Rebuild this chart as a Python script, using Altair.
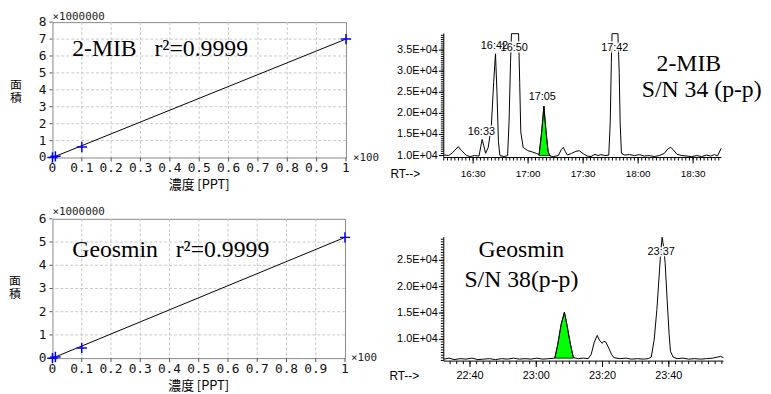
import altair as alt
import pandas as pd

# ---------------- Calibration curves (x: concentration x100 PPT, y: area x1,000,000) ----------------
mib_conc = [0.0, 0.01, 0.1, 1.0]
mib_area = [0.0, 0.07, 0.62, 7.0]
mib_fit_conc = [0.0, 1.0]
mib_fit_area = [0.0, 7.0]

geo_conc = [0.0, 0.01, 0.1, 1.0]
geo_area = [0.0, 0.05, 0.44, 5.2]
geo_fit_conc = [0.0, 1.0]
geo_fit_area = [0.0, 5.2]

conc_ticks = [0.0, 0.1, 0.2, 0.3, 0.4, 0.5, 0.6, 0.7, 0.8, 0.9, 1.0]
conc_tick_labels = ["0", "0.1", "0.2", "0.3", "0.4", "0.5", "0.6", "0.7", "0.8", "0.9", "1"]
mib_area_ticks = [0, 1, 2, 3, 4, 5, 6, 7, 8]
geo_area_ticks = [0, 1, 2, 3, 4, 5, 6]

# ---------------- Chromatograms (x: retention time in seconds, labelled mm:ss) ----------------
mib_rt = [974.2, 976.7, 978.8, 981.9, 983.7, 986.4, 988.5, 990.7, 993.2, 994.9,
          995.8, 996.8, 998.2, 999.9, 1001.2, 1002.2, 1003.0, 1003.8, 1004.6, 1006.9,
          1008.8, 1009.6, 1010.4, 1010.9, 1014.8, 1015.4, 1016.0, 1017.3, 1019.8, 1022.5,
          1024.7, 1026.0, 1027.4, 1028.6, 1029.8, 1030.9, 1031.9, 1033.8, 1036.5, 1038.1,
          1039.2, 1040.3, 1041.4, 1043.5, 1045.7, 1047.8, 1050.0, 1052.2, 1054.3, 1056.5,
          1058.1, 1059.7, 1061.9, 1064.0, 1064.8, 1065.4, 1065.8, 1069.0, 1069.7, 1070.2,
          1070.9, 1072.6, 1075.3, 1078.0, 1080.7, 1083.4, 1086.1, 1088.8, 1091.5, 1094.2,
          1096.4, 1097.8, 1099.1, 1101.2, 1103.9, 1106.6, 1109.3, 1112.0, 1114.7, 1117.4,
          1119.5, 1121.7, 1123.3, 1125.3]
mib_abund = [10160, 10000, 10700, 12110, 11170, 10000, 9770, 10000, 9880, 13820,
             12340, 10540, 11870, 16790, 27340, 34130, 25000, 13280, 10000, 9770,
             10000, 17970, 32020, 38890, 38890, 27340, 15620, 11940, 11170, 10820,
             10470, 10230, 15620, 21720, 15620, 10940, 9880, 9770, 10000, 11410,
             11940, 10940, 10120, 10470, 10940, 11170, 10470, 9880, 9770, 10300,
             10000, 10230, 10000, 10120, 17970, 32020, 38890, 38890, 29680, 17970,
             10540, 10120, 10230, 10000, 10230, 9880, 10000, 9770, 10000, 10470,
             11640, 11940, 11410, 10300, 10000, 9880, 9770, 10000, 9770, 10120,
             9880, 10230, 9880, 11710]
mib_green_rt = [1026.0, 1027.4, 1028.6, 1029.8, 1030.9, 1031.9]
mib_green_abund = [10230, 15620, 21720, 15620, 10940, 9880]
mib_green_base = 10000
mib_peak_text = ["16:33", "16:42", "16:50", "17:05", "17:42"]
mib_peak_rt = [994.5, 1001.6, 1012.4, 1027.7, 1067.3]
mib_peak_abund = [15620, 36080, 35540, 23820, 35540]
mib_note_text = ["2-MIB", "S/N 34 (p-p)"]
mib_note_rt = [1107.7, 1114.7]
mib_note_abund = [31790, 25460]

geo_rt = [1352.2, 1353.7, 1355.2, 1357.0, 1358.8, 1360.6, 1362.4, 1364.1, 1365.9, 1367.7,
          1369.5, 1371.3, 1373.1, 1374.9, 1376.6, 1378.4, 1380.2, 1382.0, 1383.8, 1385.6,
          1386.5, 1387.5, 1388.5, 1389.3, 1390.2, 1391.2, 1392.7, 1394.2, 1395.7, 1396.6,
          1397.5, 1398.4, 1399.1, 1399.9, 1400.4, 1401.0, 1401.9, 1402.7, 1403.4, 1405.2,
          1407.0, 1408.8, 1410.6, 1412.3, 1413.8, 1414.7, 1415.6, 1416.4, 1417.0, 1417.6,
          1418.0, 1418.5, 1418.9, 1419.5, 1420.1, 1420.5, 1421.3, 1422.5, 1424.3, 1426.0,
          1427.8, 1429.6, 1431.4, 1433.2, 1434.7, 1435.6, 1436.5]
geo_abund = [6250, 6440, 6160, 6340, 6250, 6440, 6160, 6250, 6340, 6160,
             6340, 6250, 6440, 6250, 6340, 6250, 6440, 6250, 6340, 6440,
             9060, 12810, 15160, 12630, 9440, 6530, 6340, 6440, 6340, 7190,
             9440, 10750, 9810, 9250, 9630, 9490, 8310, 7190, 6530, 6340,
             6440, 6250, 6340, 6250, 6340, 6630, 10000, 15630, 21250, 26880,
             29370, 27250, 24440, 17500, 10940, 7750, 6630, 6340, 6440, 6250,
             6340, 6250, 6340, 6440, 6630, 6760, 6530]
geo_green_rt = [1385.6, 1386.5, 1387.5, 1388.5, 1389.3, 1390.2, 1391.2]
geo_green_abund = [6440, 9060, 12810, 15160, 12630, 9440, 6530]
geo_green_base = 6440
geo_peak_text = ["23:37"]
geo_peak_rt = [1417.7]
geo_peak_abund = [26560]
geo_note_text = ["Geosmin", "S/N 38(p-p)"]
geo_note_rt = [1375.5, 1375.5]
geo_note_abund = [26875, 21250]

# axis ticks of the chromatograms
mib_major_rt = [990, 1020, 1050, 1080, 1110]
mib_major_rt_labels = ["16:30", "17:00", "17:30", "18:00", "18:30"]
geo_major_rt = [1360, 1380, 1400, 1420]
geo_major_rt_labels = ["22:40", "23:00", "23:20", "23:40"]
mib_major_ab = [10000, 15000, 20000, 25000, 30000, 35000]
mib_major_ab_labels = ["1.0E+04", "1.5E+04", "2.0E+04", "2.5E+04", "3.0E+04", "3.5E+04"]
geo_major_ab = [10000, 15000, 20000, 25000]
geo_major_ab_labels = ["1.0E+04", "1.5E+04", "2.0E+04", "2.5E+04"]
mib_minor_rt = list(range(974, 1126, 2))
geo_minor_rt = list(range(1354, 1437, 2))
mib_minor_ab = list(range(10000, 39000, 500))
geo_minor_ab = list(range(6000, 29500, 500))

SANS = "Liberation Sans"
SERIF = "Liberation Serif"
MONO = "DejaVu Sans Mono"
CJK = "Noto Sans CJK JP"


def one(txt):
    return pd.DataFrame({"t": [txt]})


def chrom_panel(rt, ab, g_rt, g_ab, g_base, pk_txt, pk_rt, pk_ab, an_txt, an_rt, an_ab,
                x_dom, y_dom, y_top, x_major, x_labels, x_minor, y_major, y_labels, y_minor,
                w, h, xlab_size, xlab_dy, rt_dx, rt_dy):
    xs = alt.Scale(domain=x_dom, nice=False, zero=False)
    ys = alt.Scale(domain=y_dom, nice=False, zero=False)

    def X(f):
        return alt.X(f, scale=xs, axis=None)

    def Y(f):
        return alt.Y(f, scale=ys, axis=None)

    tr = pd.DataFrame({"rt": rt, "ab": ab})
    gr = pd.DataFrame({"rt": g_rt, "ab": g_ab, "base": [g_base] * len(g_rt)})
    pk = pd.DataFrame({"rt": pk_rt, "ab": pk_ab, "txt": pk_txt})
    an = pd.DataFrame({"rt": an_rt, "ab": an_ab, "txt": an_txt})
    ax = pd.DataFrame({"lo": [y_dom[0]], "hi": [y_top]})
    xmj = pd.DataFrame({"rt": x_major, "lab": x_labels})
    ymj = pd.DataFrame({"ab": y_major, "lab": y_labels})
    xmn = pd.DataFrame({"rt": x_minor})
    ymn = pd.DataFrame({"ab": y_minor})

    green = alt.Chart(gr).mark_area(fill="#00ff00", stroke="black", strokeWidth=0.8, opacity=1).encode(
        x=X("rt:Q"), y=Y("ab:Q"), y2="base:Q")
    line = alt.Chart(tr).mark_line(color="black", strokeWidth=1).encode(x=X("rt:Q"), y=Y("ab:Q"))
    xdomain = alt.Chart(one("")).mark_rule(color="black", strokeWidth=1).encode(
        x=alt.value(0), x2=alt.value(w), y=alt.value(h))
    ydomain = alt.Chart(ax).mark_rule(color="black", strokeWidth=1).encode(
        x=alt.value(0), y=Y("lo:Q"), y2="hi:Q")
    xminor = alt.Chart(xmn).mark_rule(color="black", strokeWidth=1).encode(
        x=X("rt:Q"), y=alt.value(h), y2=alt.value(h + 3))
    xmajor = alt.Chart(xmj).mark_rule(color="black", strokeWidth=1).encode(
        x=X("rt:Q"), y=alt.value(h), y2=alt.value(h + 6))
    xlab = alt.Chart(xmj).mark_text(font=SANS, fontSize=xlab_size, color="black",
                                    baseline="middle").encode(
        x=X("rt:Q"), y=alt.value(h + xlab_dy), text="lab:N")
    yminor = alt.Chart(ymn).mark_rule(color="black", strokeWidth=1).encode(
        y=Y("ab:Q"), x=alt.value(-3), x2=alt.value(0))
    ymajor = alt.Chart(ymj).mark_rule(color="black", strokeWidth=1).encode(
        y=Y("ab:Q"), x=alt.value(-5), x2=alt.value(0))
    ylab = alt.Chart(ymj).mark_text(font=SANS, fontSize=11, color="black", align="right",
                                    baseline="middle").encode(
        y=Y("ab:Q"), x=alt.value(-6), text="lab:N")
    rt_title = alt.Chart(one("RT-->")).mark_text(font=SANS, fontSize=12, color="black",
                                                  align="left", baseline="middle").encode(
        x=alt.value(rt_dx), y=alt.value(h + rt_dy), text="t:N")
    halo = alt.Chart(pk).mark_text(font=SANS, fontSize=11, fill="white", stroke="white",
                                   strokeWidth=3, baseline="middle").encode(
        x=X("rt:Q"), y=Y("ab:Q"), text="txt:N")
    labels = alt.Chart(pk).mark_text(font=SANS, fontSize=11, color="black", baseline="middle").encode(
        x=X("rt:Q"), y=Y("ab:Q"), text="txt:N")
    notes = alt.Chart(an).mark_text(font=SERIF, fontSize=24, color="black", align="center",
                                    baseline="middle").encode(
        x=X("rt:Q"), y=Y("ab:Q"), text="txt:N")
    return alt.layer(green, line, xdomain, ydomain, xminor, xmajor, xlab, yminor, ymajor, ylab,
                     rt_title, halo, labels, notes).properties(width=w, height=h)


def calib_panel(conc, area, fit_conc, fit_area, y_ticks, note, note_x, note_y, w, h,
                yt_dx, yt_dy, mult_dy, x100_dx, x100_dy):
    ymax = y_ticks[-1]
    xs = alt.Scale(domain=[0, 1], nice=False, zero=False)
    ys = alt.Scale(domain=[0, ymax], nice=False, zero=False)

    def X(f):
        return alt.X(f, scale=xs, axis=None)

    def Y(f):
        return alt.Y(f, scale=ys, axis=None)

    pts = pd.DataFrame({"conc": conc, "area": area})
    fit = pd.DataFrame({"conc": fit_conc, "area": fit_area})
    nt = pd.DataFrame({"conc": [note_x], "area": [note_y], "txt": [note]})
    xt = pd.DataFrame({"conc": conc_ticks, "lab": conc_tick_labels})
    yt = pd.DataFrame({"area": y_ticks, "lab": [str(v) for v in y_ticks]})
    gx = pd.DataFrame({"conc": conc_ticks[1:-1]})
    gy = pd.DataFrame({"area": y_ticks[1:-1]})

    gridx = alt.Chart(gx).mark_rule(color="#c8c8c8", strokeWidth=1, strokeDash=[3, 2]).encode(
        x=X("conc:Q"))
    gridy = alt.Chart(gy).mark_rule(color="#c8c8c8", strokeWidth=1, strokeDash=[3, 2]).encode(
        y=Y("area:Q"))
    xticks = alt.Chart(xt).mark_rule(color="#555", strokeWidth=1).encode(
        x=X("conc:Q"), y=alt.value(h), y2=alt.value(h + 4))
    xlab = alt.Chart(xt).mark_text(font=MONO, fontSize=13, color="#111", baseline="top").encode(
        x=X("conc:Q"), y=alt.value(h + 5), text="lab:N")
    yticks = alt.Chart(yt).mark_rule(color="#555", strokeWidth=1).encode(
        y=Y("area:Q"), x=alt.value(-3), x2=alt.value(0))
    ylab = alt.Chart(yt).mark_text(font=MONO, fontSize=13, color="#111", align="right",
                                   baseline="middle").encode(
        y=Y("area:Q"), x=alt.value(-6), text="lab:N")
    xtitle = alt.Chart(one("濃度 [PPT]")).mark_text(font=CJK, fontSize=13, color="black",
                                                      baseline="middle").encode(
        x=alt.value(w / 2), y=alt.value(h + 28), text="t:N")
    ytitle = alt.Chart(one("面\n積")).mark_text(font=CJK, fontSize=12, color="black",
                                                 baseline="top", lineBreak="\n",
                                                 lineHeight=13).encode(
        x=alt.value(yt_dx), y=alt.value(yt_dy), text="t:N")
    mult = alt.Chart(one("×1000000")).mark_text(font=MONO, fontSize=11, color="#222",
                                                 align="left", baseline="middle").encode(
        x=alt.value(0), y=alt.value(mult_dy), text="t:N")
    x100 = alt.Chart(one("×100")).mark_text(font=MONO, fontSize=11, color="#222",
                                            align="left", baseline="middle").encode(
        x=alt.value(w + x100_dx), y=alt.value(h + x100_dy), text="t:N")
    line = alt.Chart(fit).mark_line(color="black", strokeWidth=1).encode(
        x=X("conc:Q"), y=Y("area:Q"))
    points = alt.Chart(pts).mark_point(shape="M-1,0L1,0M0,-1L0,1", size=110, filled=False,
                                       stroke="#0000ff", strokeWidth=1.5, opacity=1).encode(
        x=X("conc:Q"), y=Y("area:Q"))
    ann = alt.Chart(nt).mark_text(font=SERIF, fontSize=24, color="black", align="left",
                                  baseline="middle").encode(
        x=X("conc:Q"), y=Y("area:Q"), text="txt:N")
    return alt.layer(gridx, gridy, xticks, xlab, yticks, ylab, xtitle, ytitle, mult, x100,
                     line, points, ann).properties(
        width=w, height=h, view=alt.ViewBackground(stroke="#888888", strokeWidth=1))


tl = calib_panel(mib_conc, mib_area, mib_fit_conc, mib_fit_area, mib_area_ticks,
                 "2-MIB\u00a0\u00a0\u00a0r²=0.9999", 0.067, 6.4, 297, 137,
                 -37, 59, -5.5, 7, 1)
bl = calib_panel(geo_conc, geo_area, geo_fit_conc, geo_fit_area, geo_area_ticks,
                 "Geosmin\u00a0\u00a0\u00a0r²=0.9999", 0.068, 4.64, 296, 141,
                 -38, 58, -7, 6, 0)

tr = chrom_panel(mib_rt, mib_abund, mib_green_rt, mib_green_abund, mib_green_base,
                 mib_peak_text, mib_peak_rt, mib_peak_abund,
                 mib_note_text, mib_note_rt, mib_note_abund,
                 [974.0, 1125.5], [9531, 41630], 38940,
                 mib_major_rt, mib_major_rt_labels, mib_minor_rt,
                 mib_major_ab, mib_major_ab_labels, mib_minor_ab,
                 281, 137, 10, 17, -54, 17)
br = chrom_panel(geo_rt, geo_abund, geo_green_rt, geo_green_abund, geo_green_base,
                 geo_peak_text, geo_peak_rt, geo_peak_abund,
                 geo_note_text, geo_note_rt, geo_note_abund,
                 [1352.1, 1436.5], [5875, 32875], 29400,
                 geo_major_rt, geo_major_rt_labels, geo_minor_rt,
                 geo_major_ab, geo_major_ab_labels, geo_minor_ab,
                 283, 144, 11, 15, -55, 15)

chart = alt.concat(tl, tr, bl, br, columns=2, spacing={"row": 62, "column": 99},
                   bounds="flush", align="each").properties(
    padding={"left": 0, "top": 0, "right": 0, "bottom": 0}, background="white"
).configure_view(stroke="transparent")

chart.save("out.html", embed_options={"renderer": "svg", "actions": False})
